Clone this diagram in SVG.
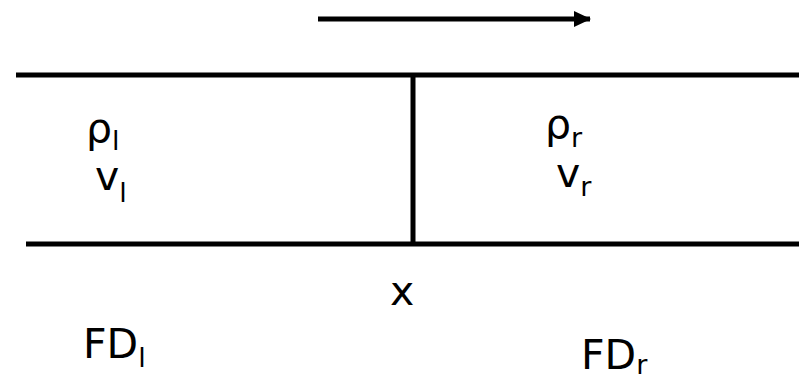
<svg xmlns="http://www.w3.org/2000/svg" width="799" height="377" viewBox="0 0 799 377">
<style>
.t{font-family:"DejaVu Sans",Verdana,sans-serif;font-size:41px;fill:#000}
.s{font-size:27px}
.ln{stroke:#000;stroke-width:5;fill:none}
</style>
<defs>
<marker id="ah" markerWidth="17" markerHeight="16" refX="16" refY="8" orient="auto" markerUnits="userSpaceOnUse">
<path d="M0,0 L17,8 L0,16 Z" fill="#000"/>
</marker>
</defs>
<rect width="799" height="377" fill="#fff"/>
<g id="connectors">
<line class="ln" x1="318" y1="19" x2="590" y2="19" stroke-width="4" marker-end="url(#ah)"/>
</g>
<g id="pipe">
<line class="ln" x1="16" y1="75" x2="799" y2="75"/>
<line class="ln" x1="26" y1="244" x2="799" y2="244"/>
<line class="ln" x1="413" y1="75" x2="413" y2="244"/>
</g>
<g id="left-state">
<text class="t" x="86" y="142">ρ<tspan class="s" dy="8">l</tspan></text>
<text class="t" x="95" y="190">v<tspan class="s" dy="12">l</tspan></text>
</g>
<g id="right-state">
<text class="t" x="545" y="138">ρ<tspan class="s" dy="9">r</tspan></text>
<text class="t" x="556" y="187">v<tspan class="s" dy="9">r</tspan></text>
</g>
<g id="interface">
<text class="t" x="390" y="305">x</text>
</g>
<g id="fd-left">
<text class="t" x="83" y="358">FD<tspan class="s" dy="9">l</tspan></text>
</g>
<g id="fd-right">
<text class="t" x="581" y="369">FD<tspan class="s" dy="5">r</tspan></text>
</g>
</svg>
